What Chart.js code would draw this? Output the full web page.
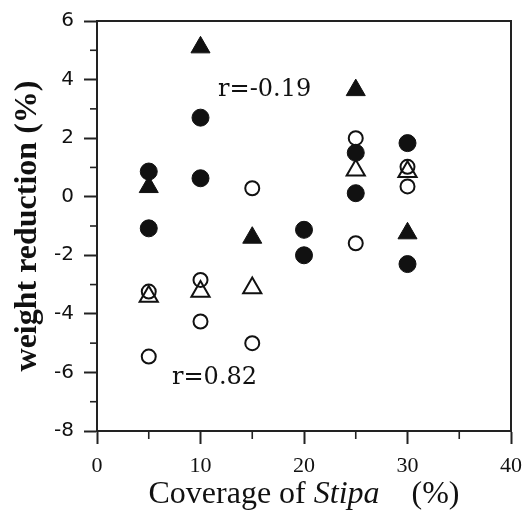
<!DOCTYPE html>
<html><head><meta charset="utf-8">
<script src="https://cdn.jsdelivr.net/npm/chart.js@4/dist/chart.umd.min.js"></script>
<style>html,body{margin:0;padding:0;background:#fff;}canvas{display:block;}</style>
</head><body>
<canvas id="c" width="525" height="515"></canvas>
<script>
// ---- data ----
const filledCircleX = [5, 5, 10, 10, 20, 20, 25, 25, 30, 30];
const filledCircleY = [0.86, -1.08, 2.70, 0.63, -1.13, -2.00, 1.50, 0.12, 1.83, -2.30];
const openCircleX = [5, 5, 10, 10, 15, 15, 25, 25, 30, 30];
const openCircleY = [-3.24, -5.46, -2.84, -4.26, 0.29, -5.00, 2.00, -1.59, 1.02, 0.35];
const filledTriangleX = [5, 10, 15, 25, 30];
const filledTriangleY = [0.33, 5.10, -1.40, 3.64, -1.25];
const openTriangleX = [5, 10, 15, 25, 30];
const openTriangleY = [-3.41, -3.24, -3.12, 0.90, 0.85];
const xTickValues = [0, 10, 20, 30, 40];
const yTickValues = [-8, -6, -4, -2, 0, 2, 4, 6];
const xMinorTicks = [5, 15, 25, 35];
const yMinorTicks = [-7, -5, -3, -1, 1, 3, 5];
const annotationTexts = ['r=-0.19', 'r=0.82'];
const annotationAnchors = [[11.7, 3.65], [7.25, -6.18]];
const xTitleParts = ['Coverage of ', 'Stipa', '    (%)'];
const yTitle = 'weight reduction (%)';

function pts(xs, ys) { return xs.map((x, i) => ({ x: x, y: ys[i] })); }

const INK = '#111';

const decor = {
  id: 'decor',
  afterDraw(chart) {
    const { ctx, chartArea: a, scales: { x, y } } = chart;
    ctx.save();
    ctx.strokeStyle = '#222';
    ctx.lineWidth = 2;
    // top and right frame
    ctx.beginPath();
    ctx.moveTo(a.left, y.getPixelForValue(6));
    ctx.lineTo(x.getPixelForValue(40), y.getPixelForValue(6));
    ctx.lineTo(x.getPixelForValue(40), y.getPixelForValue(-8));
    ctx.stroke();
    // minor ticks
    ctx.lineWidth = 1.6;
    yMinorTicks.forEach(v => {
      const p = y.getPixelForValue(v);
      ctx.beginPath(); ctx.moveTo(a.left - 7, p); ctx.lineTo(a.left, p); ctx.stroke();
    });
    xMinorTicks.forEach(v => {
      const p = x.getPixelForValue(v);
      ctx.beginPath(); ctx.moveTo(p, a.bottom); ctx.lineTo(p, a.bottom + 8); ctx.stroke();
    });
    // annotations
    ctx.fillStyle = '#111';
    ctx.font = '24px "DejaVu Serif"';
    ctx.textAlign = 'left';
    ctx.textBaseline = 'middle';
    annotationTexts.forEach((t, i) => {
      const [ax, ay] = annotationAnchors[i];
      ctx.fillText(t, x.getPixelForValue(ax), y.getPixelForValue(ay));
    });
    // x axis title with italic genus name
    const fonts = ['32px "Liberation Serif"', 'italic 32px "Liberation Serif"', '32px "Liberation Serif"'];
    const widths = xTitleParts.map((t, i) => { ctx.font = fonts[i]; return ctx.measureText(t).width; });
    const total = widths.reduce((s, w) => s + w, 0);
    let cx = (a.left + a.right) / 2 - total / 2;
    ctx.textBaseline = 'alphabetic';
    xTitleParts.forEach((t, i) => {
      ctx.font = fonts[i];
      ctx.fillText(t, cx, 503);
      cx += widths[i];
    });
    ctx.restore();
  }
};

new Chart(document.getElementById('c'), {
  type: 'scatter',
  data: {
    datasets: [
      { label: 'filled circles', data: pts(filledCircleX, filledCircleY), pointStyle: 'circle',
        pointRadius: 8.5, pointBackgroundColor: INK, pointBorderColor: INK, pointBorderWidth: 1 },
      { label: 'open circles', data: pts(openCircleX, openCircleY), pointStyle: 'circle',
        pointRadius: 7, pointBackgroundColor: 'rgba(0,0,0,0)', pointBorderColor: INK, pointBorderWidth: 2 },
      { label: 'filled triangles', data: pts(filledTriangleX, filledTriangleY), pointStyle: 'triangle',
        pointRadius: 11, pointBackgroundColor: INK, pointBorderColor: INK, pointBorderWidth: 1 },
      { label: 'open triangles', data: pts(openTriangleX, openTriangleY), pointStyle: 'triangle',
        pointRadius: 10.5, pointBackgroundColor: 'rgba(0,0,0,0)', pointBorderColor: INK, pointBorderWidth: 2 }
    ]
  },
  options: {
    responsive: false,
    animation: false,
    events: [],
    layout: { padding: { top: 21, right: 14, left: 0, bottom: 0 } },
    plugins: { legend: { display: false }, tooltip: { enabled: false } },
    scales: {
      x: {
        type: 'linear', min: 0, max: 40,
        afterFit(s) { s.height = 84; s.paddingLeft = 0; s.paddingRight = 0; },
        afterBuildTicks(s) { s.ticks = xTickValues.map(v => ({ value: v })); },
        ticks: { color: '#111', font: { family: '"Liberation Serif"', size: 22 }, padding: 9, maxRotation: 0, autoSkip: false },
        grid: { drawOnChartArea: false, drawTicks: true, tickLength: 13, tickColor: '#222', tickWidth: 2 },
        border: { display: true, color: '#222', width: 2 },
        title: { display: false }
      },
      y: {
        type: 'linear', min: -8, max: 6,
        afterFit(s) { s.width = 97; s.paddingTop = 0; s.paddingBottom = 0; },
        afterBuildTicks(s) { s.ticks = yTickValues.map(v => ({ value: v })); },
        ticks: { color: '#111', font: { family: '"DejaVu Sans"', size: 20 }, padding: 10, autoSkip: false },
        grid: { drawOnChartArea: false, drawTicks: true, tickLength: 13, tickColor: '#222', tickWidth: 2 },
        border: { display: true, color: '#222', width: 2 },
        title: { display: true, text: yTitle, color: '#111',
          font: { family: '"Liberation Serif"', size: 32, weight: 'bold' }, padding: { top: 9, bottom: 0 } }
      }
    }
  },
  plugins: [decor]
});
</script>
</body></html>
